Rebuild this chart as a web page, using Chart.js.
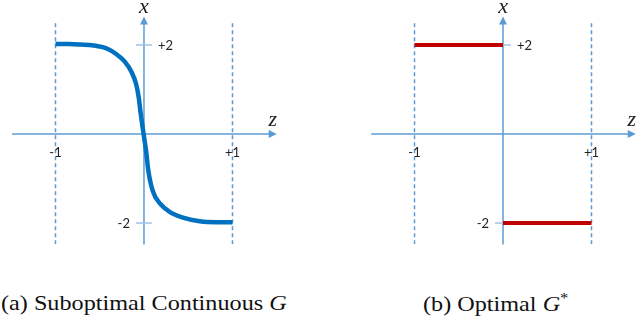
<!DOCTYPE html>
<html>
<head>
<meta charset="utf-8">
<script src="https://cdn.jsdelivr.net/npm/chart.js@4.4.1/dist/chart.umd.min.js"></script>
<style>
  body { margin: 0; background: #fff; }
  #wrap { position: relative; width: 640px; height: 316px; overflow: hidden; }
  .panel { position: absolute; top: 0; width: 320px; height: 260px; }
  .cap { position: absolute; top: 290px; font-family: "Liberation Serif", serif; font-size: 22px; color: #111; white-space: nowrap;
         transform: scaleX(1.1); transform-origin: left top; }
  .cap i { font-style: italic; }
</style>
</head>
<body>
<div id="wrap">
  <div class="panel" style="left:0"><canvas id="chartA" width="320" height="260"></canvas></div>
  <div class="panel" style="left:320px"><canvas id="chartB" width="320" height="260"></canvas></div>
  <div class="cap" style="left:1px">(a) Suboptimal Continuous <i>G</i></div>
  <div class="cap" style="left:423px">(b) Optimal <i>G</i><sup style="font-size:15px">*</sup></div>
</div>
<script>
// values
const curveZ = [-1, -0.85, -0.72, -0.57, -0.42, -0.31, -0.215, -0.14, -0.09, -0.06, -0.037, -0.019, 0, 0.023, 0.049, 0.098, 0.18, 0.29, 0.44, 0.63, 0.82, 1];
const curveX = [2.02, 2.02, 2.01, 1.99, 1.92, 1.79, 1.62, 1.39, 1.13, 0.83, 0.46, 0.2, -0.06, -0.37, -0.82, -1.27, -1.56, -1.75, -1.88, -1.96, -1.98, -1.98];
const stepUpZ = [-1, 0];
const stepUpX = [2, 2];
const stepDownZ = [0, 1];
const stepDownX = [-2, -2];
const zTicks = [-1, 1];
const zTickLabels = ['-1', '+1'];
const xTicks = [2, -2];
const xTickLabels = ['+2', '-2'];

const axisc = '#5b9bd5';

function pts(zs, xs) {
    return zs.map((z, i) => ({x: z, y: xs[i]}));
}

const axesPlugin = {
    id: 'axesPlugin',
    beforeDatasetsDraw(chart) {
        const ctx = chart.ctx;
        const sx = chart.scales.x, sy = chart.scales.y;
        const ox = sx.getPixelForValue(0), oy = sy.getPixelForValue(0);
        ctx.save();
        ctx.strokeStyle = axisc;
        ctx.fillStyle = axisc;
        ctx.lineWidth = 1.5;
        // dashed guides at z = -1, +1
        ctx.setLineDash([4, 3]);
        zTicks.forEach(v => {
            const px = sx.getPixelForValue(v);
            ctx.beginPath();
            ctx.moveTo(px, sy.getPixelForValue(2.49));
            ctx.lineTo(px, sy.getPixelForValue(-2.47));
            ctx.stroke();
        });
        ctx.setLineDash([]);
        // horizontal axis with arrow
        const xEnd = sx.getPixelForValue(1.5);
        ctx.beginPath();
        ctx.moveTo(sx.getPixelForValue(-1.49), oy);
        ctx.lineTo(xEnd - 6, oy);
        ctx.stroke();
        ctx.beginPath();
        ctx.moveTo(xEnd, oy);
        ctx.lineTo(xEnd - 8, oy - 4);
        ctx.lineTo(xEnd - 8, oy + 4);
        ctx.closePath();
        ctx.fill();
        // vertical axis with arrow
        const yEnd = sy.getPixelForValue(2.64);
        ctx.beginPath();
        ctx.moveTo(ox, sy.getPixelForValue(-2.48));
        ctx.lineTo(ox, yEnd + 6);
        ctx.stroke();
        ctx.beginPath();
        ctx.moveTo(ox, yEnd);
        ctx.lineTo(ox - 4, yEnd + 8);
        ctx.lineTo(ox + 4, yEnd + 8);
        ctx.closePath();
        ctx.fill();
        // tick marks on the vertical axis
        ctx.strokeStyle = '#9dc3e6';
        xTicks.forEach(v => {
            const py = sy.getPixelForValue(v);
            ctx.beginPath();
            ctx.moveTo(ox - 8, py);
            ctx.lineTo(ox + 8, py);
            ctx.stroke();
        });
        // tick labels
        ctx.fillStyle = '#222';
        ctx.font = '13px Lato, "Open Sans", sans-serif';
        ctx.textBaseline = 'middle';
        ctx.textAlign = 'center';
        zTicks.forEach((v, i) => {
            ctx.fillText(zTickLabels[i], sx.getPixelForValue(v), oy + 19);
        });
        xTicks.forEach((v, i) => {
            const py = sy.getPixelForValue(v);
            if (v > 0) {
                ctx.textAlign = 'left';
                ctx.fillText(xTickLabels[i], ox + 14, py + 1);
            } else {
                ctx.textAlign = 'right';
                ctx.fillText(xTickLabels[i], ox - 14, py + 1);
            }
        });
        // axis names
        ctx.font = 'italic 22px "Liberation Serif", serif';
        ctx.textAlign = 'center';
        ctx.fillText('x', ox, 7);
        ctx.fillText('z', xEnd - 4, oy - 14);
        ctx.restore();
    }
};

function makeChart(id, zMin, zMax, datasets) {
    return new Chart(document.getElementById(id), {
        type: 'scatter',
        data: { datasets: datasets },
        options: {
            responsive: false,
            animation: false,
            layout: { padding: 0 },
            scales: {
                x: { type: 'linear', min: zMin, max: zMax, display: false },
                y: { type: 'linear', min: -2.83, max: 3.01, display: false }
            },
            plugins: {
                legend: { display: false },
                tooltip: { enabled: false }
            },
            elements: { point: { radius: 0 } }
        },
        plugins: [axesPlugin]
    });
}

makeChart('chartA', -1.627, 1.989, [
    {
        data: pts(curveZ, curveX),
        showLine: true,
        borderColor: '#0070c0',
        borderWidth: 4.5,
        cubicInterpolationMode: 'monotone',
        borderCapStyle: 'butt',
        clip: false
    }
]);

makeChart('chartB', -2.068, 1.548, [
    {
        data: pts(stepUpZ, stepUpX),
        showLine: true,
        borderColor: '#c00000',
        borderWidth: 4,
        clip: false
    },
    {
        data: pts(stepDownZ, stepDownX),
        showLine: true,
        borderColor: '#c00000',
        borderWidth: 4,
        clip: false
    }
]);
</script>
</body>
</html>
